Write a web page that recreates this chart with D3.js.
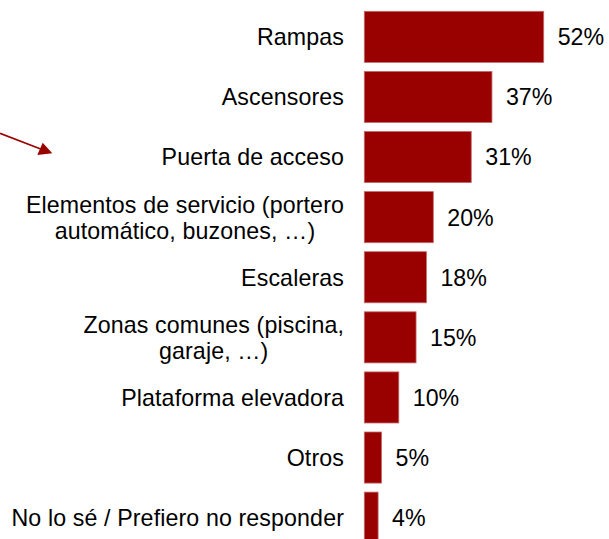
<!DOCTYPE html>
<html>
<head>
<meta charset="utf-8">
<script src="https://cdn.jsdelivr.net/npm/d3@7"></script>
<style>
  body { margin: 0; background: #fff; }
  svg { display: block; }
</style>
</head>
<body>
<svg id="drawing_region"></svg>
<script>
const categories = [
    ["Rampas"],
    ["Ascensores"],
    ["Puerta de acceso"],
    ["Elementos de servicio (portero", "automático, buzones, …)"],
    ["Escaleras"],
    ["Zonas comunes (piscina,", "garaje, …)"],
    ["Plataforma elevadora"],
    ["Otros"],
    ["No lo sé / Prefiero no responder"]
];
const values = [52, 37, 31, 20, 18, 15, 10, 5, 4];
const value_labels = ["52%", "37%", "31%", "20%", "18%", "15%", "10%", "5%", "4%"];

const data = values.map((v, i) => ({ lines: categories[i], value: v, label: value_labels[i], key: i }));

class HBarChart {

    constructor( config, data ) {
        this.config = config;
        this.data = data;
        this.init();
    }

    init() {
        let self = this;

        self.svg = d3.select( self.config.parent )
            .attr('width', self.config.width)
            .attr('height', self.config.height);

        self.yscale = d3.scaleBand()
            .domain( self.data.map(d => d.key) )
            .range( [6.8, 6.8 + 60.1 * self.data.length] )
            .paddingInner(0.15)
            .paddingOuter(0.075);

        self.xscale = d3.scaleLinear()
            .domain( [0, 100] )
            .range( [364.3, 364.3 + 345] );
    }

    render() {
        let self = this;
        const fs = 23.2;
        const lh = 26;
        const label_right = 344;

        self.svg.selectAll("rect.bar")
            .data(self.data)
            .enter()
            .append("rect")
            .attr("class", "bar")
            .attr("x", self.xscale(0))
            .attr("y", d => self.yscale(d.key))
            .attr("width", d => self.xscale(d.value) - self.xscale(0))
            .attr("height", self.yscale.bandwidth())
            .style("fill", "#990000")
            .style("stroke", "#c46a6a")
            .style("stroke-width", 0.8);

        self.svg.selectAll("text.value")
            .data(self.data)
            .enter()
            .append("text")
            .attr("class", "value")
            .attr("x", d => self.xscale(d.value) + 14)
            .attr("y", d => self.yscale(d.key) + self.yscale.bandwidth() / 2)
            .attr("dy", "0.36em")
            .style("font-family", "'Liberation Sans', Arial, sans-serif")
            .style("font-size", fs + "px")
            .style("fill", "#000")
            .text(d => d.label);

        // category labels: block right-aligned, lines centred within the block
        self.data.forEach(d => {
            const cy = self.yscale(d.key) + self.yscale.bandwidth() / 2;
            const g = self.svg.append("text")
                .style("font-family", "'Liberation Sans', Arial, sans-serif")
                .style("font-size", fs + "px")
                .style("letter-spacing", "0.12px")
                .style("fill", "#000");
            const spans = d.lines.map((t, j) => g.append("tspan")
                .attr("y", cy - (d.lines.length - 1) * lh / 2 + j * lh)
                .attr("dy", "0.36em")
                .text(t));
            if (d.lines.length === 1) {
                g.attr("text-anchor", "end");
                spans[0].attr("x", label_right);
            } else {
                const w = d3.max(spans, s => s.node().getComputedTextLength());
                g.attr("text-anchor", "middle");
                spans.forEach(s => s.attr("x", label_right - w / 2));
            }
        });

        // annotation arrow
        self.svg.append("line")
            .attr("x1", 0).attr("y1", 133.3)
            .attr("x2", 42).attr("y2", 149.5)
            .style("stroke", "#990000")
            .style("stroke-width", 1.6);

        self.svg.append("polygon")
            .attr("points", "52.3,153.3 42.7,142.7 37.3,155")
            .style("fill", "#990000");
    }
}

const chart = new HBarChart({ parent: '#drawing_region', width: 609, height: 539 }, data);
chart.render();
</script>
</body>
</html>
